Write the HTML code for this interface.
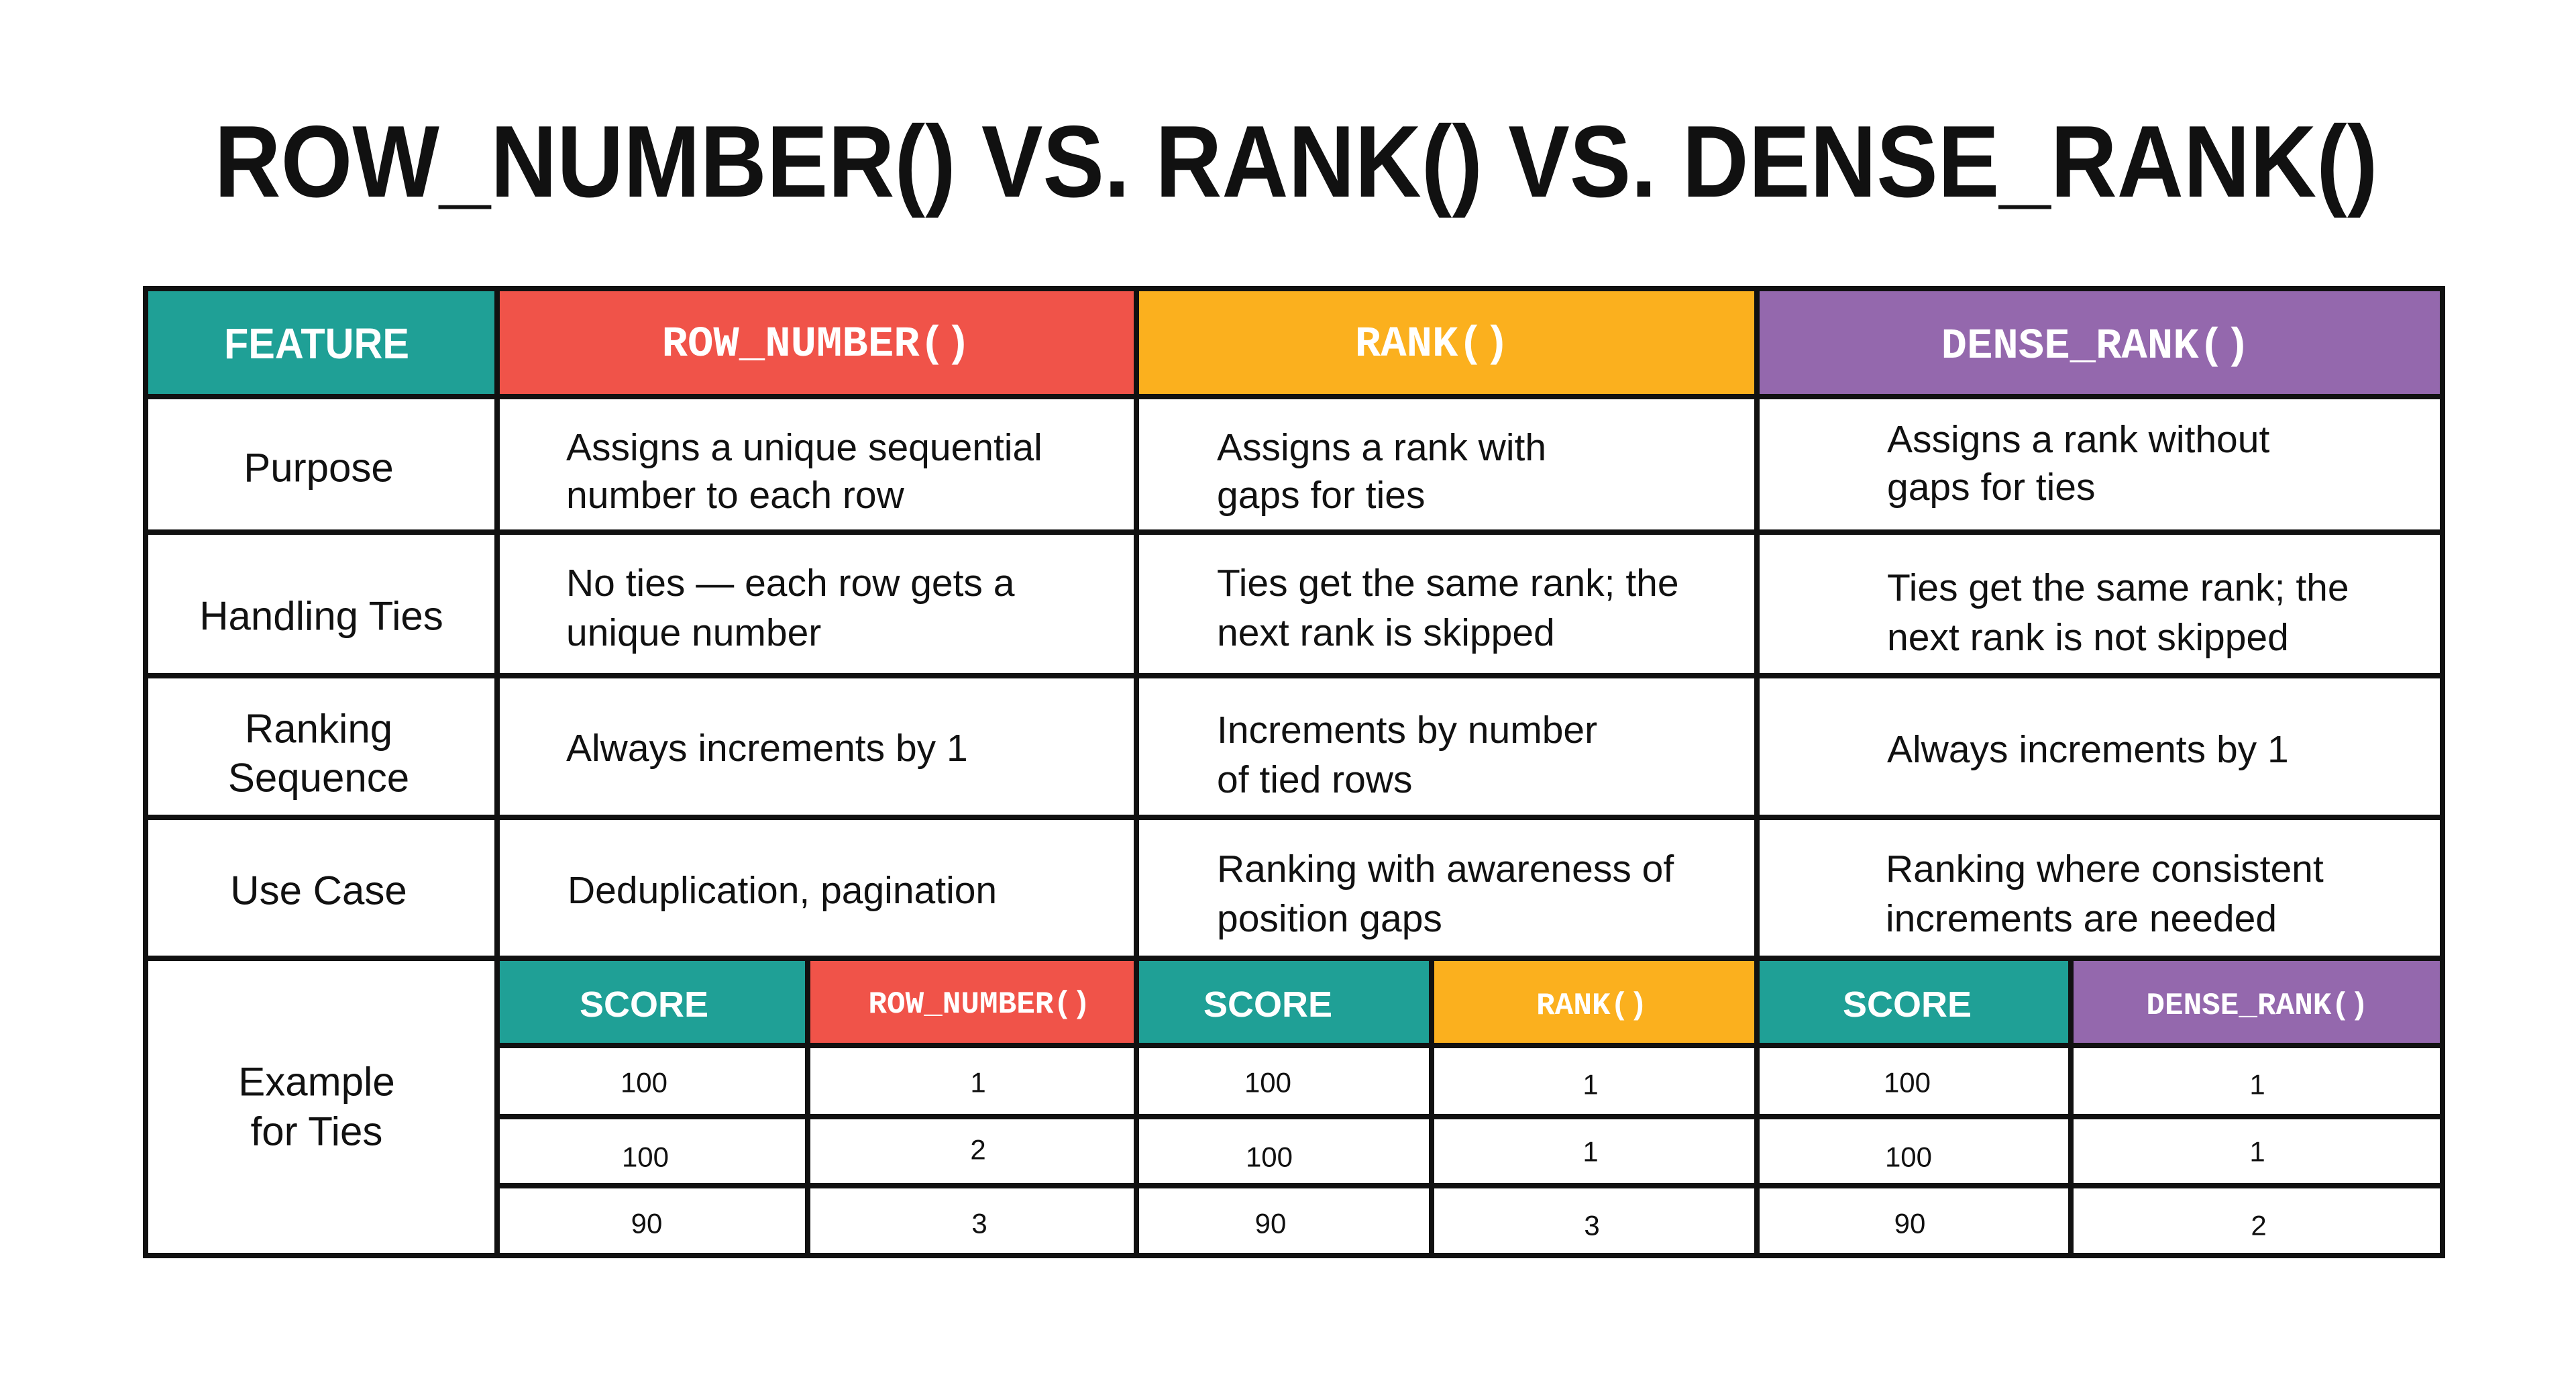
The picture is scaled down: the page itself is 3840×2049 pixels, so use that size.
<!DOCTYPE html>
<html><head><meta charset="utf-8"><style>
html,body{margin:0;padding:0;background:#fff;width:3840px;height:2049px;overflow:hidden}
svg{display:block}
.t{font-family:"Liberation Sans",sans-serif;font-size:57px;fill:#111;dominant-baseline:central}
.l{font-family:"Liberation Sans",sans-serif;font-size:60px;fill:#111;dominant-baseline:central;text-anchor:middle}
.h{font-family:"Liberation Mono",monospace;font-size:64px;font-weight:bold;fill:#fff;dominant-baseline:central;text-anchor:middle}
.hb{font-family:"Liberation Sans",sans-serif;font-weight:bold;fill:#fff;dominant-baseline:central;text-anchor:middle}
.sm{font-family:"Liberation Mono",monospace;font-size:46px;font-weight:bold;fill:#fff;dominant-baseline:central;text-anchor:middle}
.d{font-family:"Liberation Sans",sans-serif;font-size:42px;fill:#111;dominant-baseline:central;text-anchor:middle}
</style></head><body>
<svg width="3840" height="2049" viewBox="0 0 3840 2049" xmlns="http://www.w3.org/2000/svg">
<rect width="3840" height="2049" fill="#fff"/>
<text x="1932" y="241" text-anchor="middle" dominant-baseline="central" font-family="Liberation Sans, sans-serif" font-weight="bold" font-size="152" fill="#111" textLength="3225" lengthAdjust="spacingAndGlyphs">ROW_NUMBER() VS. RANK() VS. DENSE_RANK()</text>

<rect x="217" y="426" width="524" height="165" fill="#1FA096"/>
<rect x="741" y="426" width="953" height="165" fill="#F05349"/>
<rect x="1694" y="426" width="925" height="165" fill="#FBB01E"/>
<rect x="2619" y="426" width="1022" height="165" fill="#9468AD"/>
<rect x="741" y="1428" width="463" height="130" fill="#1FA096"/>
<rect x="1204" y="1428" width="490" height="130" fill="#F05349"/>
<rect x="1694" y="1428" width="440" height="130" fill="#1FA096"/>
<rect x="2134" y="1428" width="485" height="130" fill="#FBB01E"/>
<rect x="2619" y="1428" width="468" height="130" fill="#1FA096"/>
<rect x="3087" y="1428" width="554" height="130" fill="#9468AD"/>

<g stroke="#111" stroke-width="8" fill="none">
<rect x="217" y="430" width="3424" height="1441"/>
<line x1="217" y1="591" x2="3641" y2="591"/>
<line x1="217" y1="793" x2="3641" y2="793"/>
<line x1="217" y1="1007" x2="3641" y2="1007"/>
<line x1="217" y1="1218" x2="3641" y2="1218"/>
<line x1="217" y1="1428" x2="3641" y2="1428"/>
<line x1="741" y1="1558" x2="3641" y2="1558"/>
<line x1="741" y1="1664" x2="3641" y2="1664"/>
<line x1="741" y1="1767" x2="3641" y2="1767"/>
<line x1="741" y1="426" x2="741" y2="1871"/>
<line x1="1694" y1="426" x2="1694" y2="1871"/>
<line x1="2619" y1="426" x2="2619" y2="1871"/>
<line x1="1204" y1="1428" x2="1204" y2="1871"/>
<line x1="2134" y1="1428" x2="2134" y2="1871"/>
<line x1="3087" y1="1428" x2="3087" y2="1871"/>
</g>

<text class="hb" x="472" y="512" font-size="64" textLength="276" lengthAdjust="spacingAndGlyphs">FEATURE</text>
<text class="h" x="1217" y="514">ROW_NUMBER()</text>
<text class="h" x="2135" y="514">RANK()</text>
<text class="h" x="3124" y="517">DENSE_RANK()</text>

<text class="l" x="475" y="697">Purpose</text>
<text class="l" x="479" y="918">Handling Ties</text>
<text class="l" x="475" y="1086">Ranking</text>
<text class="l" x="475" y="1159">Sequence</text>
<text class="l" x="475" y="1327">Use Case</text>
<text class="l" x="472" y="1612">Example</text>
<text class="l" x="472" y="1686">for Ties</text>

<text class="t" x="844" y="667">Assigns a unique sequential</text>
<text class="t" x="844" y="738">number to each row</text>
<text class="t" x="1814" y="667">Assigns a rank with</text>
<text class="t" x="1814" y="738">gaps for ties</text>
<text class="t" x="2813" y="655">Assigns a rank without</text>
<text class="t" x="2813" y="726">gaps for ties</text>

<text class="t" x="844" y="869">No ties — each row gets a</text>
<text class="t" x="844" y="943">unique number</text>
<text class="t" x="1814" y="869">Ties get the same rank; the</text>
<text class="t" x="1814" y="943">next rank is skipped</text>
<text class="t" x="2813" y="876">Ties get the same rank; the</text>
<text class="t" x="2813" y="950">next rank is not skipped</text>

<text class="t" x="844" y="1115">Always increments by 1</text>
<text class="t" x="1814" y="1088">Increments by number</text>
<text class="t" x="1814" y="1162">of tied rows</text>
<text class="t" x="2813" y="1117">Always increments by 1</text>

<text class="t" x="846" y="1327">Deduplication, pagination</text>
<text class="t" x="1814" y="1295">Ranking with awareness of</text>
<text class="t" x="1814" y="1369">position gaps</text>
<text class="t" x="2811" y="1295">Ranking where consistent</text>
<text class="t" x="2811" y="1369">increments are needed</text>

<text class="hb" x="960" y="1497" font-size="54">SCORE</text>
<text class="sm" x="1460" y="1497">ROW_NUMBER()</text>
<text class="hb" x="1890" y="1497" font-size="54">SCORE</text>
<text class="sm" x="2373" y="1499">RANK()</text>
<text class="hb" x="2843" y="1497" font-size="54">SCORE</text>
<text class="sm" x="3365" y="1499">DENSE_RANK()</text>

<text class="d" x="960" y="1613">100</text>
<text class="d" x="1458" y="1613">1</text>
<text class="d" x="1890" y="1613">100</text>
<text class="d" x="2371" y="1616">1</text>
<text class="d" x="2843" y="1613">100</text>
<text class="d" x="3365" y="1616">1</text>

<text class="d" x="962" y="1724">100</text>
<text class="d" x="1458" y="1713">2</text>
<text class="d" x="1892" y="1724">100</text>
<text class="d" x="2371" y="1716">1</text>
<text class="d" x="2845" y="1724">100</text>
<text class="d" x="3365" y="1716">1</text>

<text class="d" x="964" y="1823">90</text>
<text class="d" x="1460" y="1823">3</text>
<text class="d" x="1894" y="1823">90</text>
<text class="d" x="2373" y="1826">3</text>
<text class="d" x="2847" y="1823">90</text>
<text class="d" x="3367" y="1826">2</text>
</svg>
</body></html>
